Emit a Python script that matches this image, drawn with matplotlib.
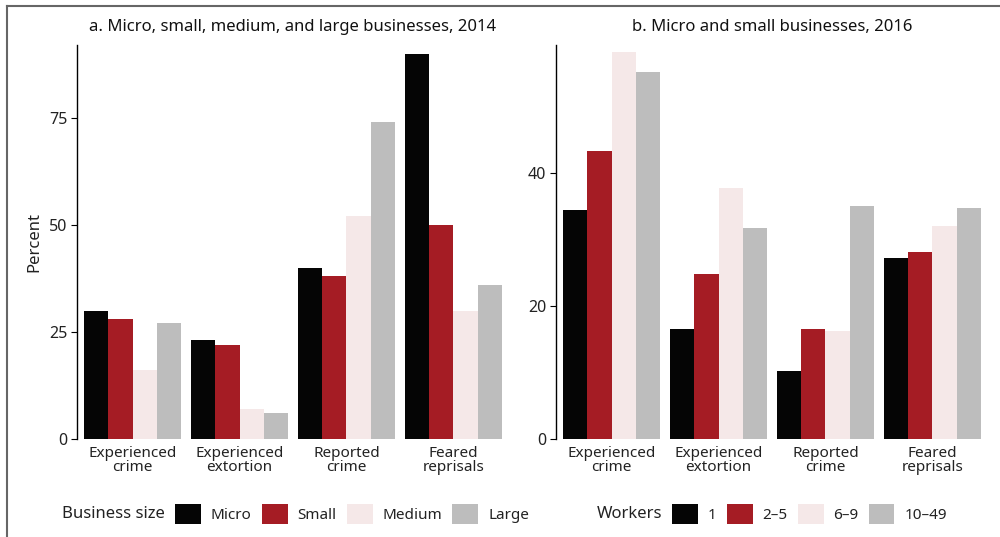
import numpy as np
import matplotlib
matplotlib.use("Agg")
import matplotlib.pyplot as plt
from matplotlib.lines import Line2D

plt.rcParams['font.family'] = ['Noto Sans', 'DejaVu Sans']

categories = ["Experienced\ncrime", "Experienced\nextortion", "Reported\ncrime", "Feared\nreprisals"]

# panel a: business size, 2014
sizes = ["Micro", "Small", "Medium", "Large"]
micro = [30, 23, 40, 90]
small = [28, 22, 38, 50]
medium = [16, 7, 52, 30]
large = [27, 6, 74, 36]

# panel b: number of workers, 2016
workers = ["1", "2\u20135", "6\u20139", "10\u201349"]
w1 = [34.5, 16.5, 10.2, 27.3]
w2_5 = [43.4, 24.9, 16.5, 28.1]
w6_9 = [58.2, 37.8, 16.2, 32.1]
w10_49 = [55.3, 31.7, 35.1, 34.7]

colors = ["#050505", "#A51C24", "#F5E8E8", "#BDBDBD"]

fig = plt.figure(figsize=(10, 5.37), dpi=100)
ax1 = fig.add_axes([0.077, 0.1825, 0.432, 0.7337])
ax2 = fig.add_axes([0.556, 0.1825, 0.432, 0.7337])

x = np.arange(len(categories))
bw = 0.227


def draw(ax, series, labels, ylim, yticks, title):
    for i, (vals, lab) in enumerate(zip(series, labels)):
        ax.bar(x + (i - 1.5) * bw, vals, bw, color=colors[i], label=lab)
    ax.set_xlim(-0.52, 3.52)
    ax.set_ylim(0, ylim)
    ax.set_yticks(yticks)
    ax.set_xticks(x)
    ax.set_xticklabels(categories, fontsize=11, color="#222222", linespacing=0.95)
    ax.tick_params(axis="x", length=0, pad=5)
    ax.tick_params(axis="y", length=4, labelsize=11.5, labelcolor="#222222", pad=3)
    for s in ["top", "right", "bottom"]:
        ax.spines[s].set_visible(False)
    ax.spines["left"].set_linewidth(1)
    ax.set_title(title, fontsize=12, color="#111111", pad=10)


draw(ax1, [micro, small, medium, large], sizes, 92, [0, 25, 50, 75],
     "a. Micro, small, medium, and large businesses, 2014")
draw(ax2, [w1, w2_5, w6_9, w10_49], workers, 59.3, [0, 20, 40],
     "b. Micro and small businesses, 2016")
ax1.set_ylabel("Percent", fontsize=12, color="#222222", labelpad=5)

leg_y = 1 - 514 / 537
fig.text(0.062, leg_y, "Business size", fontsize=12, va="center", ha="left", color="#222222")
fig.text(0.597, leg_y, "Workers", fontsize=12, va="center", ha="left", color="#222222")

for ax, xpos in [(ax1, 0.175), (ax2, 0.672)]:
    h, l = ax.get_legend_handles_labels()
    fig.legend(h, l, loc="center left", bbox_to_anchor=(xpos, leg_y), ncol=4,
               frameon=False, fontsize=11, handlelength=1.7, handleheight=1.7,
               handletextpad=0.65, columnspacing=0.65, borderpad=0, borderaxespad=0,
               labelcolor="#222222")

# frame lines at top and left
fig.add_artist(Line2D([0.007, 1.0], [1 - 6 / 537, 1 - 6 / 537], color="#666666", lw=1.5))
fig.add_artist(Line2D([0.007, 0.007], [0, 1 - 6 / 537], color="#666666", lw=1.5))

fig.savefig("out.png", dpi=100)
